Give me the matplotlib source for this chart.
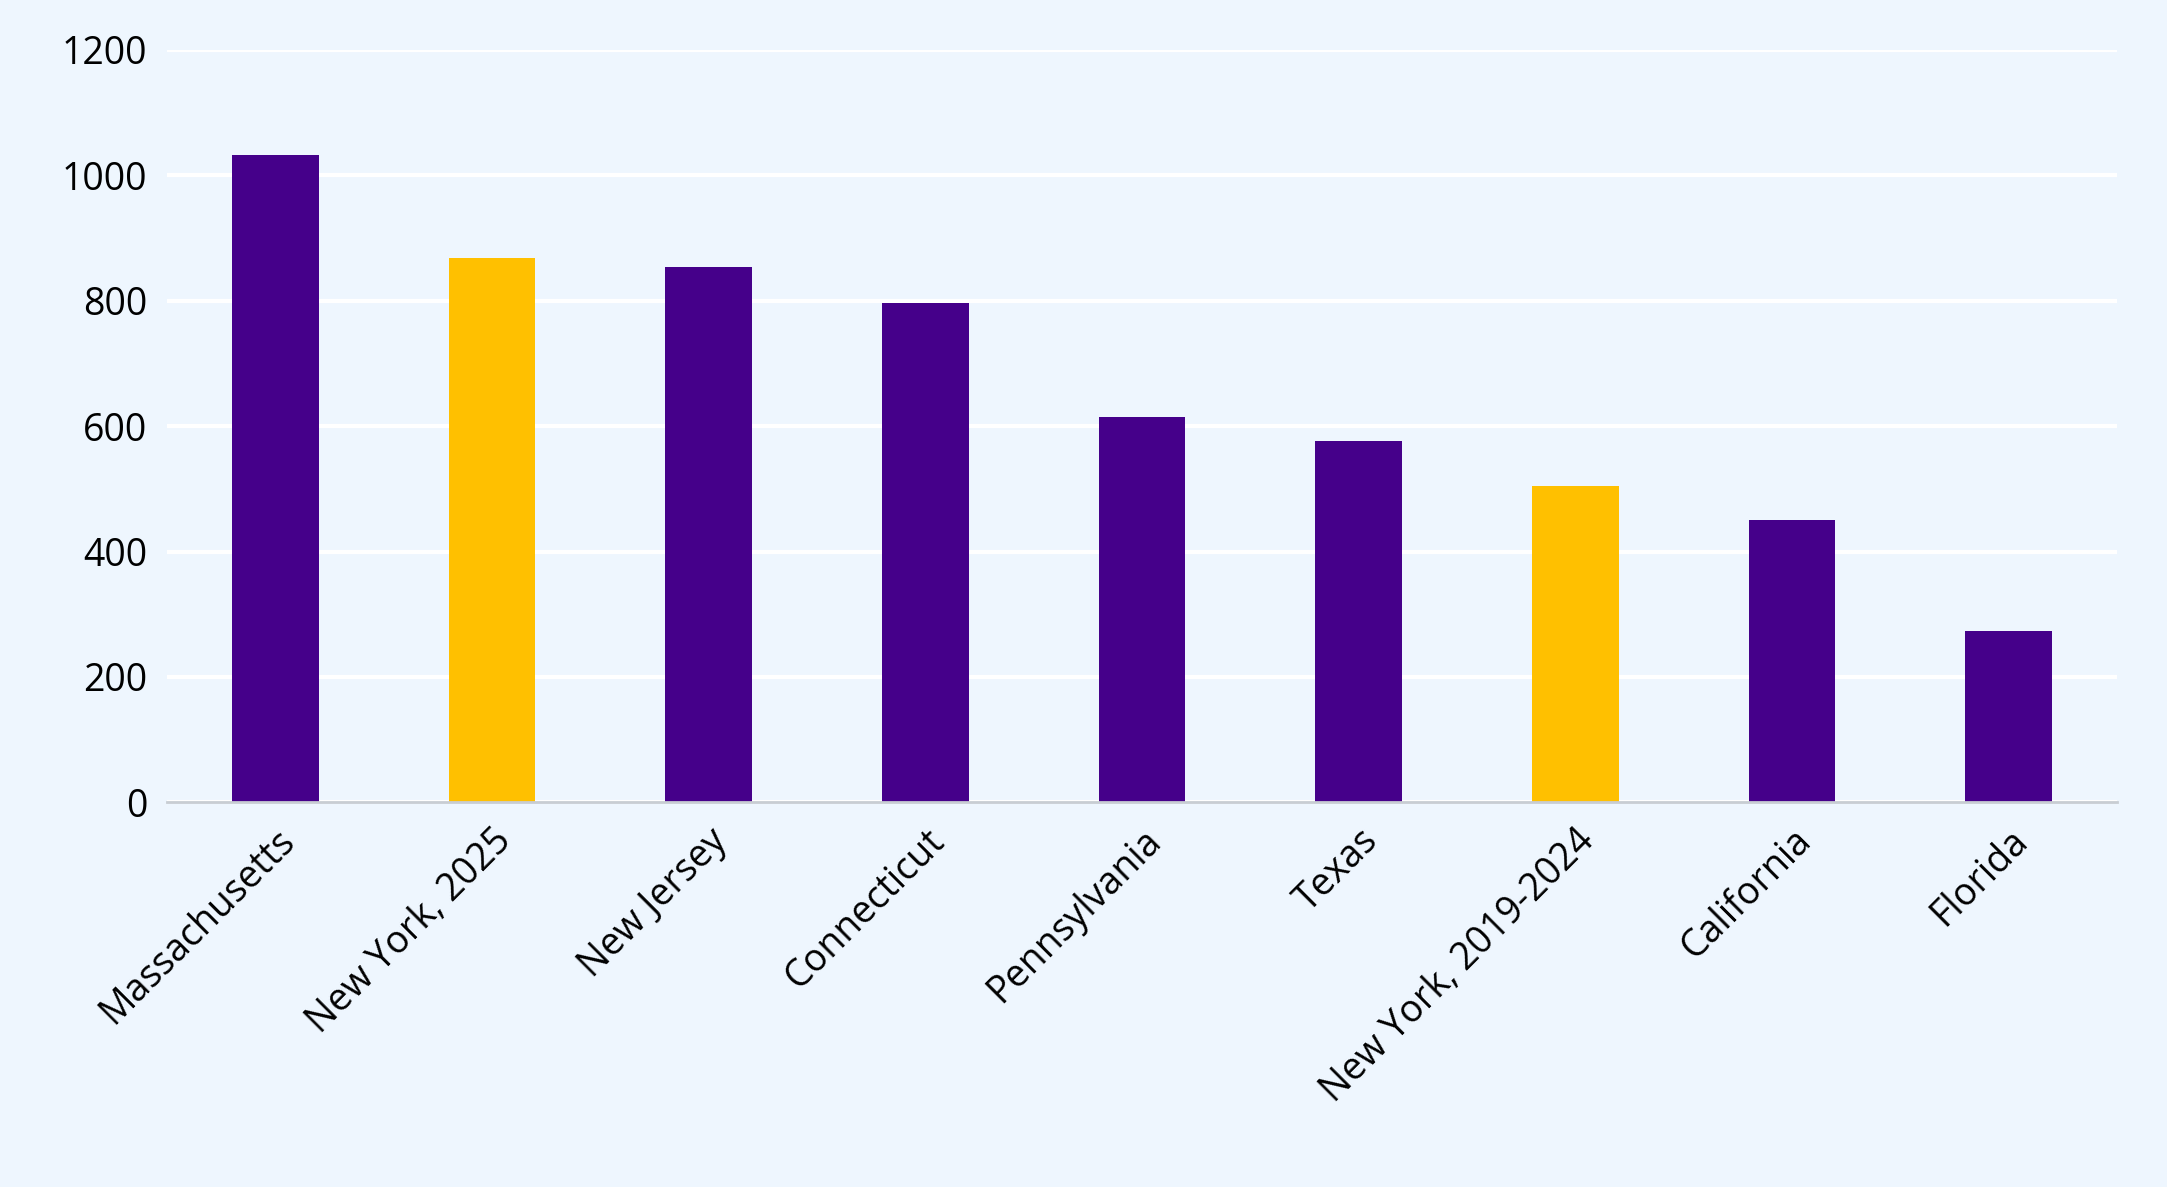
import matplotlib
matplotlib.use("Agg")
import matplotlib.pyplot as plt

categories = ["Massachusetts", "New York, 2025", "New Jersey", "Connecticut", "Pennsylvania",
              "Texas", "New York, 2019-2024", "California", "Florida"]
values = [1032, 868, 853, 796, 614, 577, 504, 451, 274]
highlight = [False, True, False, False, False, False, True, False, False]

plt.rcParams["font.family"] = "Open Sans"
bg = "#EEF6FE"
fig = plt.figure(figsize=(21.67, 11.87), dpi=100, facecolor=bg)
ax = fig.add_axes([0.077, 0.324, 0.9, 0.634], facecolor=bg)
colors = ["#FFC000" if h else "#45008A" for h in highlight]
x = range(len(categories))
ax.bar(x, values, width=0.4, color=colors, zorder=3)
ax.set_ylim(0, 1200)
ax.set_xlim(-0.5, len(categories) - 0.5)
ax.set_yticks(range(0, 1201, 200))
ax.yaxis.grid(True, color="white", linewidth=3, zorder=0)
ax.set_xticks(list(x))
ax.set_xticklabels(categories, rotation=45, ha="right", rotation_mode="anchor")
ax.tick_params(axis="both", length=0, labelsize=27, pad=14)
for s in ["top", "right", "left"]:
    ax.spines[s].set_visible(False)
ax.spines["bottom"].set_color("#C8CDD3")
ax.spines["bottom"].set_linewidth(2)
ax.spines["bottom"].set_zorder(4)
fig.savefig("out.png", dpi=100, facecolor=bg)
